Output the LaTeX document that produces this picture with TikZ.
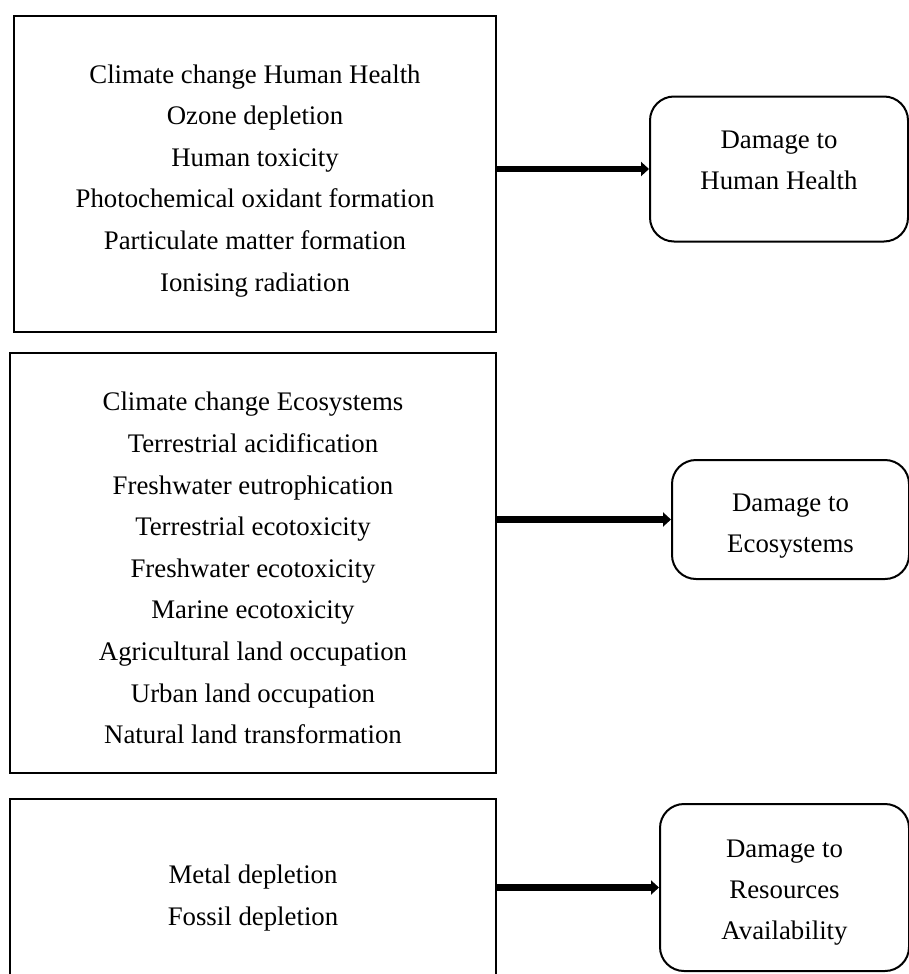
\documentclass[tikz,border=0pt]{standalone}
\usepackage{fontspec}
\setmainfont{Liberation Serif}
\usepackage{tikz}
\usetikzlibrary{arrows.meta,positioning}

\begin{document}
\begin{tikzpicture}[
  x=1pt, y=1pt,
  catbox/.style={rectangle, draw, line width=2pt, align=center, font=\fontsize{26.8}{41.6}\selectfont, inner sep=0pt},
  dmgbox/.style={rectangle, rounded corners=24pt, draw, line width=2pt, align=center, font=\fontsize{26.8}{41}\selectfont, inner sep=0pt},
  arr/.style={-{Triangle[length=8pt, width=14pt]}, line width=6.5pt}
]
\useasboundingbox (0,0) rectangle (908,-974);
\node[catbox, minimum width=482pt, minimum height=316pt] (hh) at (255,-174) {\rule{0pt}{32pt}Climate change Human Health\\Ozone depletion\\Human toxicity\\Photochemical oxidant formation\\Particulate matter formation\\Ionising radiation};
\node[catbox, minimum width=486pt, minimum height=420pt, below=19pt of hh, xshift=-2pt] (eco) {\rule{0pt}{29pt}Climate change Ecosystems\\Terrestrial acidification\\Freshwater eutrophication\\Terrestrial ecotoxicity\\Freshwater ecotoxicity\\Marine ecotoxicity\\Agricultural land occupation\\Urban land occupation\\Natural land transformation};
\node[catbox, minimum width=486pt, minimum height=195pt, below=24pt of eco] (res) {\rule{0pt}{22pt}Metal depletion\\Fossil depletion};
\node[dmgbox, minimum width=258pt, minimum height=145pt, right=152pt of hh, yshift=5pt] (dhh) {Damage to\\Human Health\rule[-17pt]{0pt}{17pt}};
\node[dmgbox, minimum width=237pt, minimum height=119pt, right=174pt of eco, yshift=43.5pt] (deco) {\rule{0pt}{30pt}Damage to\\Ecosystems};
\node[dmgbox, minimum width=249pt, minimum height=167pt, right=162pt of res, yshift=9pt] (dres) {\rule{0pt}{27pt}Damage to\\Resources\\Availability};
\draw[arr] (dhh.west -| hh.east) -- (dhh.west);
\draw[arr] (deco.west -| eco.east) -- (deco.west);
\draw[arr] (dres.west -| res.east) -- (dres.west);
\end{tikzpicture}
\end{document}
